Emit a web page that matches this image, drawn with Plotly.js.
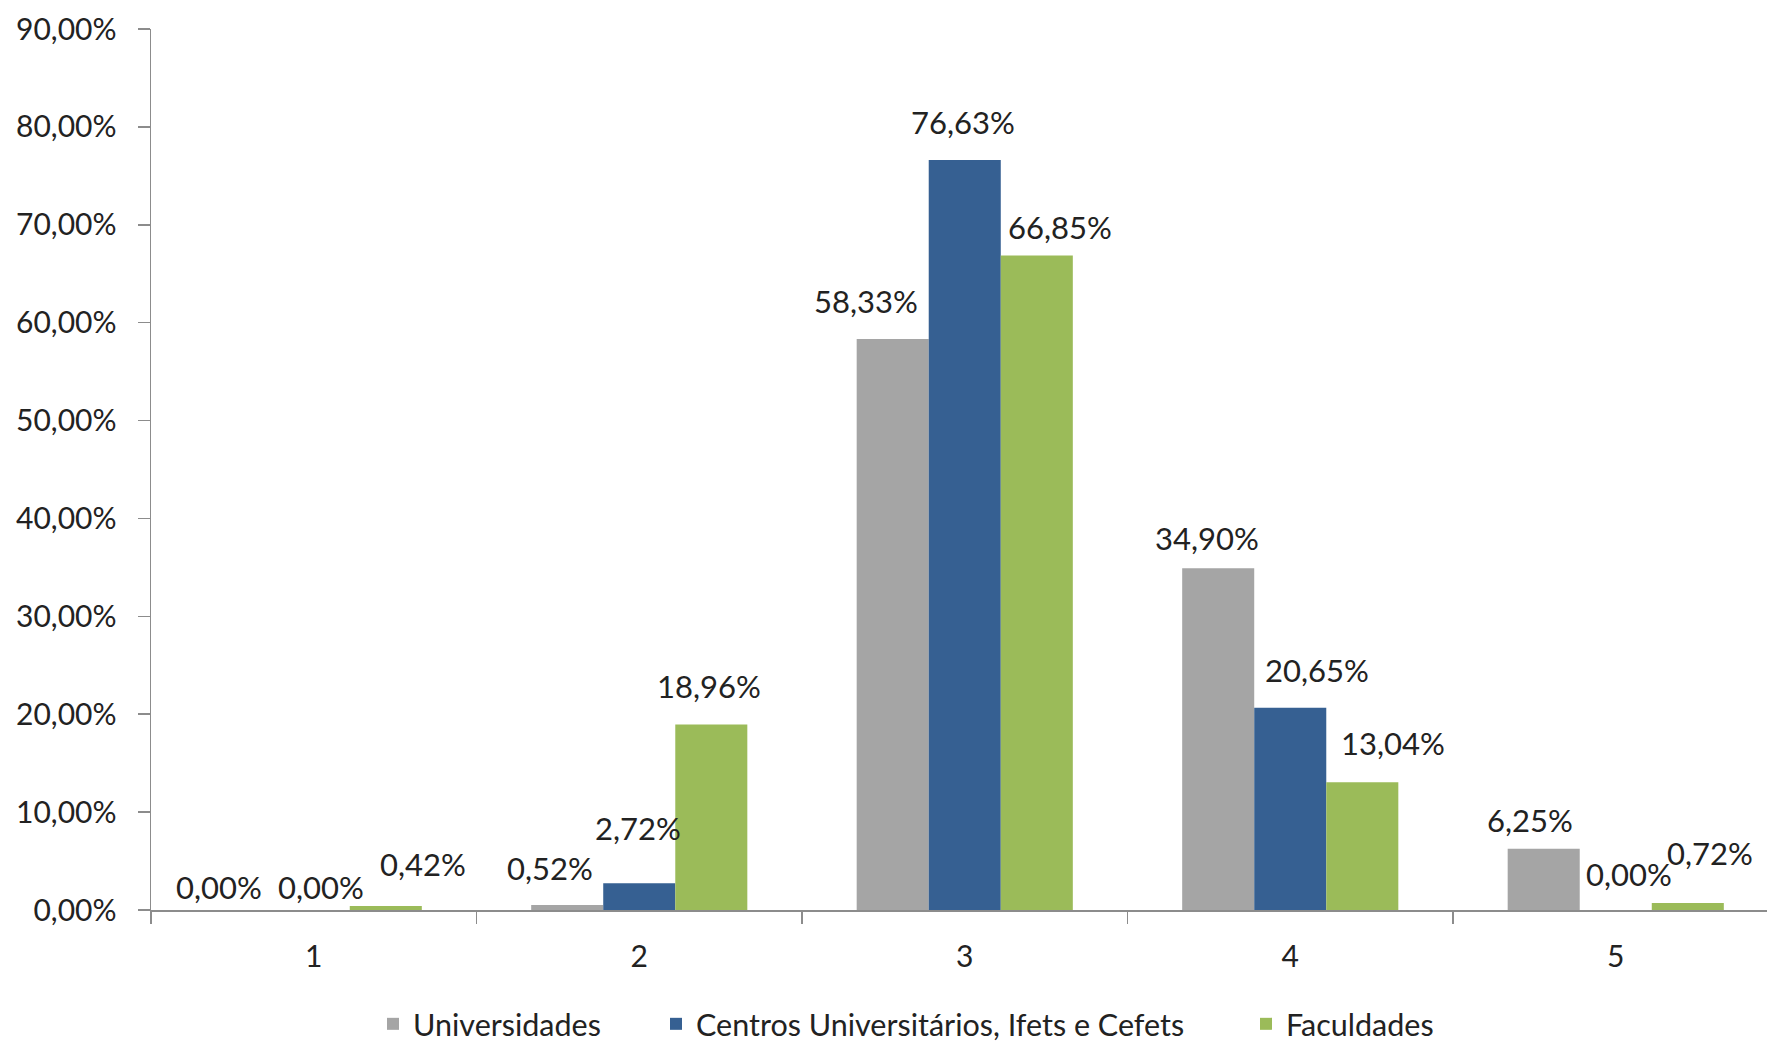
<!DOCTYPE html>
<html>
<head>
<meta charset="utf-8">
<script src="https://cdn.plot.ly/plotly-3.0.1.min.js"></script>
<style>
  html, body { margin: 0; padding: 0; background: #fff; }
  #chart { width: 1767px; height: 1045px; }
</style>
</head>
<body>
<div id="chart"></div>
<script>
// ---- data ----
const categories = ['1', '2', '3', '4', '5'];
const universidades = [0.00, 0.52, 58.33, 34.90, 6.25];
const centros = [0.00, 2.72, 76.63, 20.65, 0.00];
const faculdades = [0.42, 18.96, 66.85, 13.04, 0.72];
const seriesNames = ['Universidades', 'Centros Universitários, Ifets e Cefets', 'Faculdades'];

// ---- style ----
const colors = ['#A5A5A5', '#366092', '#9BBB59'];
const FONT = 'Lato, "Noto Sans", sans-serif';
const TXT = '#222222';
const FS = 30;
const FS_LABEL = 31;
const FS_LEGEND = 30.5;
const bargap = 0.336;
// label nudges (px) to mimic the hand-placed labels of the original
const labelDX = [
  [-23, -17, -26.5, -11.5, -13.5],
  [7.5, -1, -1.5, 26.5, 13.5],
  [37, -2, 23, 30.5, 22]
];
const labelGap = [
  [10, 24, 25, 17, 16],
  [10, 42, 25, 25, 23],
  [29, 25, 16, 26, 37]
];

const allSeries = [universidades, centros, faculdades];
const legendIds = ['legend', 'legend2', 'legend3'];

const traces = allSeries.map((vals, i) => ({
  type: 'bar',
  name: seriesNames[i],
  x: categories,
  y: vals,
  marker: { color: colors[i], line: { width: 0 } },
  legend: legendIds[i],
  hoverinfo: 'skip'
}));

const fmt = v => v.toFixed(2).replace('.', ',') + '%';
const barW = (1 - bargap) / 3;
const annotations = [];
allSeries.forEach((vals, i) => {
  vals.forEach((v, j) => {
    annotations.push({
      x: j + (i - 1) * barW,
      y: v,
      xref: 'x', yref: 'y',
      text: fmt(v),
      showarrow: false,
      xanchor: 'center', yanchor: 'bottom',
      xshift: labelDX[i][j],
      yshift: labelGap[i][j] - 8,
      font: { family: FONT, size: FS_LABEL, color: TXT }
    });
  });
});

const plotLeft = 151, plotRight = 1767;
const pw = plotRight - plotLeft;
const legendBase = {
  orientation: 'h', yanchor: 'middle', xanchor: 'left',
  yref: 'container', y: 1 - 1024 / 1045,
  font: { family: FONT, size: FS_LEGEND, color: TXT },
  bgcolor: 'rgba(0,0,0,0)', borderwidth: 0
};

const layout = {
  width: 1767, height: 1045,
  margin: { l: plotLeft, r: 0, t: 29, b: 135, pad: 0, autoexpand: false },
  paper_bgcolor: '#ffffff', plot_bgcolor: '#ffffff',
  separators: ',.',
  font: { family: FONT, size: FS, color: TXT },
  barmode: 'group', bargap: bargap, bargroupgap: 0,
  showlegend: true,
  xaxis: {
    type: 'category',
    range: [-0.5, -0.5 + pw / 325.5],
    tickson: 'boundaries',
    ticks: 'outside', ticklen: 12, tickcolor: '#8c8c8c', tickwidth: 1.5,
    showline: true, linecolor: '#8c8c8c', linewidth: 1.5,
    showgrid: false, zeroline: false,
    tickfont: { family: FONT, size: FS, color: TXT },
    ticklabelstandoff: 19,
    automargin: false,
    fixedrange: true
  },
  yaxis: {
    range: [0, 90], dtick: 10, tick0: 0,
    tickformat: '.2f', ticksuffix: '%',
    ticks: 'outside', ticklen: 12, tickcolor: '#8c8c8c', tickwidth: 1.5,
    showline: true, linecolor: '#8c8c8c', linewidth: 1.5,
    showgrid: false, zeroline: false,
    tickfont: { family: FONT, size: FS, color: TXT },
    ticklabelstandoff: 15,
    automargin: false,
    fixedrange: true
  },
  legend: Object.assign({}, legendBase, { x: (373 - plotLeft) / pw }),
  legend2: Object.assign({}, legendBase, { x: (656 - plotLeft) / pw }),
  legend3: Object.assign({}, legendBase, { x: (1246 - plotLeft) / pw }),
  annotations: annotations
};

Plotly.newPlot('chart', traces, layout, { displayModeBar: false, staticPlot: true });
</script>
</body>
</html>
